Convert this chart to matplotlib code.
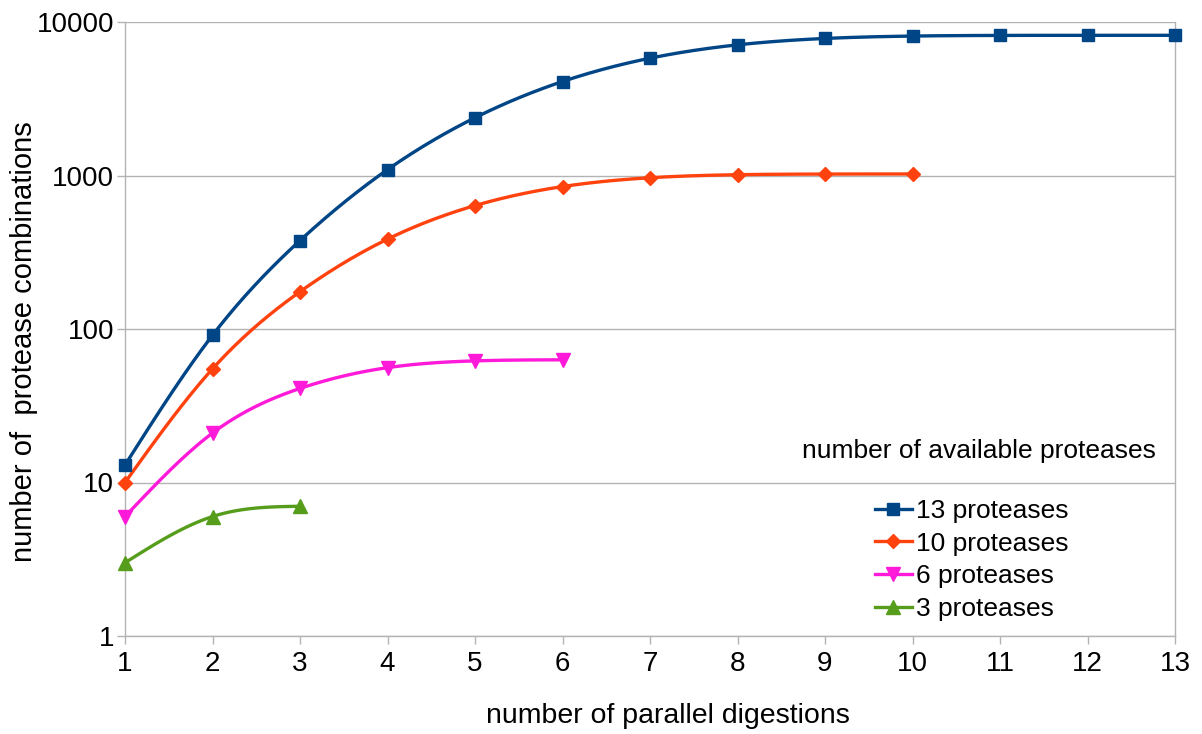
import matplotlib

matplotlib.use("Agg")
import matplotlib.pyplot as plt
import numpy as np

# values
digestions_13 = [1, 2, 3, 4, 5, 6, 7, 8, 9, 10, 11, 12, 13]
combos_13 = [13, 91, 377, 1092, 2379, 4095, 5811, 7098, 7813, 8099, 8177, 8190, 8191]
digestions_10 = [1, 2, 3, 4, 5, 6, 7, 8, 9, 10]
combos_10 = [10, 55, 175, 385, 637, 847, 967, 1012, 1022, 1023]
digestions_6 = [1, 2, 3, 4, 5, 6]
combos_6 = [6, 21, 41, 56, 62, 63]
digestions_3 = [1, 2, 3]
combos_3 = [3, 6, 7]

SERIES = [
    (digestions_13, combos_13, "13 proteases", "#004586", "s", 9),
    (digestions_10, combos_10, "10 proteases", "#ff420e", "D", 7),
    (digestions_6, combos_6, "6 proteases", "#ff19d9", "v", 9.5),
    (digestions_3, combos_3, "3 proteases", "#579d1c", "^", 9.5),
]

plt.rcParams["font.family"] = ["Liberation Sans", "DejaVu Sans"]
GRID = "#b3b3b3"


def natural_spline(x, y, n=40):
    """Natural cubic spline through (x, y), only used to draw a smooth line."""
    x = np.asarray(x, float)
    y = np.asarray(y, float)
    k = len(x)
    h = np.diff(x)
    A = np.zeros((k, k))
    r = np.zeros(k)
    A[0, 0] = A[-1, -1] = 1
    for i in range(1, k - 1):
        A[i, i - 1] = h[i - 1]
        A[i, i] = 2 * (h[i - 1] + h[i])
        A[i, i + 1] = h[i]
        r[i] = 6 * ((y[i + 1] - y[i]) / h[i] - (y[i] - y[i - 1]) / h[i - 1])
    m = np.linalg.solve(A, r)
    xs, ys = [], []
    for i in range(k - 1):
        t = np.linspace(x[i], x[i + 1], n, endpoint=(i == k - 2))
        a = (x[i + 1] - t) / h[i]
        b = (t - x[i]) / h[i]
        s = (a * y[i] + b * y[i + 1]
             + ((a ** 3 - a) * m[i] + (b ** 3 - b) * m[i + 1]) * h[i] ** 2 / 6)
        xs.append(t)
        ys.append(s)
    return np.concatenate(xs), np.concatenate(ys)


fig = plt.figure(figsize=(12.02, 7.34), dpi=100)
ax = fig.add_axes([125 / 1202, 1 - 636 / 734, 1050 / 1202, 614 / 734])

handles = []
for xs, ys, label, color, marker, ms in SERIES:
    sx, sy = natural_spline(xs, np.log10(ys))
    ax.plot(sx, 10 ** sy, color=color, lw=2.4, zorder=3, clip_on=False)
    ax.plot(xs, ys, ls="none", marker=marker, ms=ms, color=color, zorder=4,
            clip_on=False)
    h, = ax.plot([], [], color=color, lw=2.4, marker=marker, ms=ms, label=label)
    handles.append(h)

ax.set_yscale("log")
ax.set_xlim(1, 13)
ax.set_ylim(1, 10000)
ax.set_xticks(range(1, 14))
ax.set_yticks([1, 10, 100, 1000, 10000])
ax.set_yticklabels(["1", "10", "100", "1000", "10000"])
ax.minorticks_off()
ax.grid(axis="y", color=GRID, lw=1)
ax.set_axisbelow(True)
for side in ax.spines.values():
    side.set_color(GRID)
    side.set_linewidth(1)
ax.spines["top"].set_visible(False)
ax.tick_params(axis="both", colors=GRID, labelcolor="black", labelsize=20,
               length=6, width=1, direction="out")
ax.tick_params(axis="x", pad=5)
ax.tick_params(axis="y", pad=2)

fig.text(668 / 1202, 1 - 716 / 734, "number of parallel digestions",
         ha="center", va="center", fontsize=20.5)
fig.text(24 / 1202, 1 - 342 / 734, "number of  protease combinations",
         ha="center", va="center", rotation=90, fontsize=21)

fig.text(979 / 1202, 1 - 451 / 734, "number of available proteases",
         ha="center", va="center", fontsize=19)
ax.legend(handles=handles, loc="upper left",
          bbox_to_anchor=(875 / 1202, 1 - 499 / 734),
          bbox_transform=fig.transFigure, frameon=False, fontsize=19,
          handlelength=1.4, handletextpad=0.15, labelspacing=0.33,
          borderpad=0, borderaxespad=0)

fig.savefig("out.png", dpi=100)
